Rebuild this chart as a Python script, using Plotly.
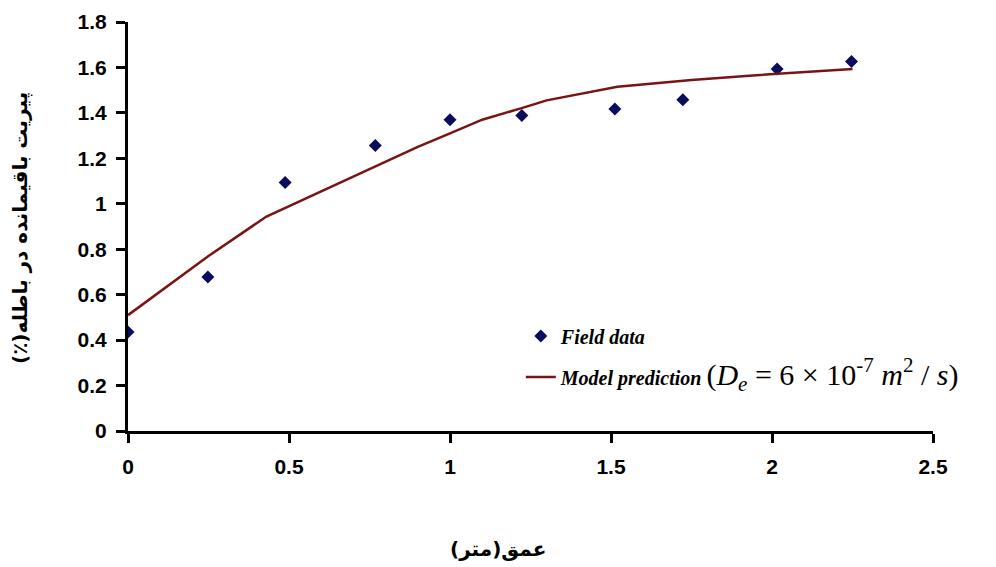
import plotly.graph_objects as go

# Field data
field_x = [0.0, 0.248, 0.488, 0.768, 1.0, 1.223, 1.512, 1.723, 2.016, 2.247]
field_y = [0.436, 0.678, 1.094, 1.257, 1.370, 1.389, 1.417, 1.458, 1.593, 1.626]

# Model prediction
model_x = [0.0, 0.25, 0.43, 0.5, 0.64, 0.76, 0.9, 1.0, 1.1, 1.22, 1.3, 1.52, 1.75, 1.94, 2.07, 2.25]
model_y = [0.51, 0.77, 0.944, 0.99, 1.08, 1.16, 1.25, 1.31, 1.37, 1.42, 1.455, 1.515, 1.545, 1.565, 1.578, 1.593]

x_ticks = [0, 0.5, 1, 1.5, 2, 2.5]
x_tick_labels = ["0", "0.5", "1", "1.5", "2", "2.5"]
y_ticks = [0, 0.2, 0.4, 0.6, 0.8, 1.0, 1.2, 1.4, 1.6, 1.8]
y_tick_labels = ["0", "0.2", "0.4", "0.6", "0.8", "1", "1.2", "1.4", "1.6", "1.8"]

fig = go.Figure()
fig.add_trace(go.Scatter(
    x=field_x, y=field_y, mode="markers",
    marker=dict(symbol="diamond", size=10, color="#0c0c5c"),
    name="<b><i>Field data</i></b>", legendgroup="a",
))
fig.add_trace(go.Scatter(
    x=model_x, y=model_y, mode="lines",
    line=dict(color="#7a1414", width=2.5),
    name="<b><i>Model prediction</i></b> <span style='font-size:30px'>(<i>D<sub>e</sub></i> = 6 × 10<sup>-7</sup> <i>m</i><sup>2</sup> / <i>s</i>)</span>",
    legendgroup="b",
))

axis_font = dict(family="Arial, Liberation Sans", size=21, color="black", weight="bold")

fig.update_layout(
    width=988, height=559,
    margin=dict(l=120, r=63, t=14, b=136, autoexpand=False),
    paper_bgcolor="white", plot_bgcolor="white",
    showlegend=True,
    legend=dict(
        x=0.488, y=0.28, xanchor="left", yanchor="top",
        bgcolor="rgba(0,0,0,0)",
        font=dict(family="Liberation Serif, Times New Roman", size=20, color="black"),
        traceorder="grouped", tracegroupgap=12,
    ),
    xaxis=dict(
        range=[0, 2.5], tickvals=x_ticks, ticktext=x_tick_labels,
        showgrid=False, zeroline=False, showline=True, linecolor="black", linewidth=3,
        ticks="outside", ticklen=9, tickwidth=2.5, tickcolor="black",
        tickfont=axis_font, automargin=False, ticklabelstandoff=6,
    ),
    yaxis=dict(
        range=[0, 1.8], tickvals=y_ticks, ticktext=y_tick_labels,
        showgrid=False, zeroline=False, showline=True, linecolor="black", linewidth=3,
        ticks="outside", ticklen=9, tickwidth=2.5, tickcolor="black",
        tickfont=axis_font, automargin=False, ticklabelstandoff=5,
    ),
)

fig.add_annotation(
    text="<b>پیریت باقیمانده در باطله(٪)\u200f</b>", xref="paper", yref="paper",
    x=-(128 - 20) / 805, y=(431 - 228) / 409, textangle=-90,
    xanchor="center", yanchor="middle", showarrow=False,
    font=dict(family="DejaVu Sans, Noto Sans", size=20, color="black"),
)

fig.add_annotation(
    text="<b>عمق(متر)</b>", xref="paper", yref="paper",
    x=(498 - 128) / 805, y=-(549 - 431) / 409,
    xanchor="center", yanchor="middle", showarrow=False,
    font=dict(family="DejaVu Sans, Noto Sans", size=20, color="black"),
)

fig.write_html("out.html")
